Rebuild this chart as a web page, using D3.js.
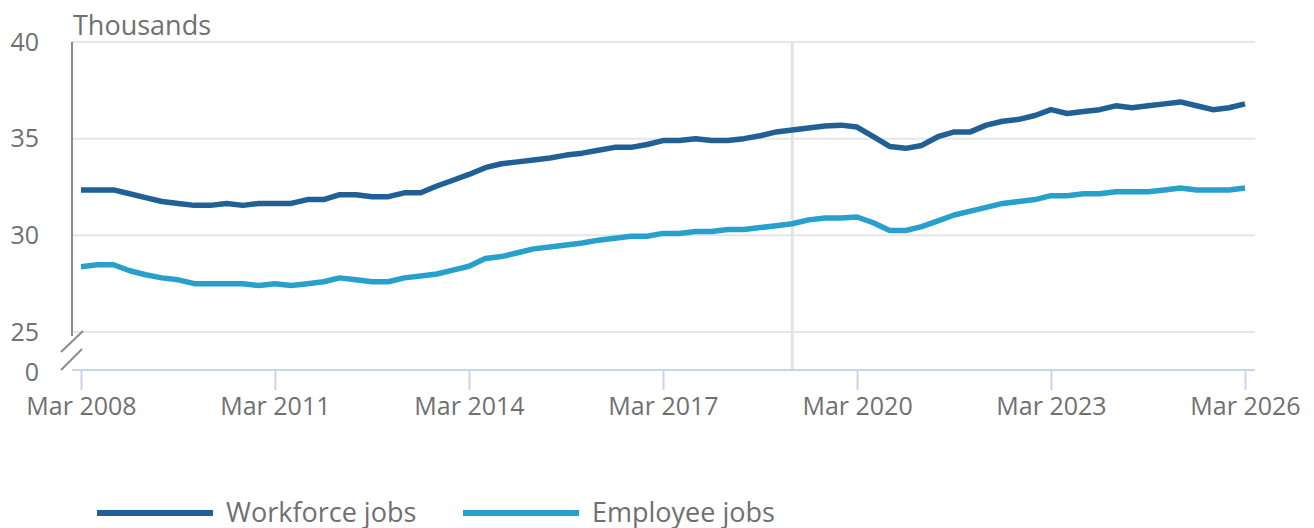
<!DOCTYPE html>
<html>
<head>
<meta charset="utf-8">
<script src="https://cdn.jsdelivr.net/npm/d3@7"></script>
<style>
  body { margin: 0; background: #fff; }
  svg text { font-family: "Open Sans", sans-serif; fill: #707071; }
</style>
</head>
<body>
<div id="chart"></div>
<script>
// Quarterly data, Mar 2008 to Mar 2026 (thousands)
const startYear = 2008;
const workforceJobs = [
  32.35, 32.35, 32.35, 32.15, 31.95, 31.75, 31.65, 31.55, 31.55, 31.65,
  31.55, 31.65, 31.65, 31.65, 31.85, 31.85, 32.1, 32.1, 32.0, 32.0,
  32.2, 32.2, 32.55, 32.85, 33.15, 33.5, 33.7, 33.8, 33.9, 34.0,
  34.15, 34.25, 34.4, 34.55, 34.55, 34.7, 34.9, 34.9, 35.0, 34.9,
  34.9, 35.0, 35.15, 35.35, 35.45, 35.55, 35.65, 35.7, 35.6, 35.1,
  34.6, 34.5, 34.65, 35.1, 35.35, 35.35, 35.7, 35.9, 36.0, 36.2,
  36.5, 36.3, 36.4, 36.5, 36.7, 36.6, 36.7, 36.8, 36.9, 36.7,
  36.5, 36.6, 36.8
];
const employeeJobs = [
  28.37, 28.48, 28.48, 28.17, 27.96, 27.8, 27.7, 27.5, 27.5, 27.5,
  27.5, 27.4, 27.5, 27.4, 27.5, 27.6, 27.8, 27.7, 27.6, 27.6,
  27.8, 27.9, 28.0, 28.2, 28.4, 28.8, 28.9, 29.1, 29.3, 29.4,
  29.5, 29.6, 29.75, 29.85, 29.95, 29.95, 30.1, 30.1, 30.2, 30.2,
  30.3, 30.3, 30.4, 30.5, 30.6, 30.8, 30.9, 30.9, 30.95, 30.65,
  30.25, 30.25, 30.45, 30.75, 31.05, 31.25, 31.45, 31.65, 31.75, 31.85,
  32.05, 32.05, 32.15, 32.15, 32.25, 32.25, 32.25, 32.35, 32.45, 32.35,
  32.35, 32.35, 32.45
];
const seriesNames = ["Workforce jobs", "Employee jobs"];
const seriesColors = ["#206095", "#27a0cc"];
const yTicks = [25, 30, 35, 40];
const xTickYears = [2008, 2011, 2014, 2017, 2020, 2023, 2026];
const markerDate = new Date(2019, 2, 1);

const dates = workforceJobs.map((d, i) => new Date(startYear + Math.floor(i / 4), 2 + (i % 4) * 3, 1));

const width = 1314, height = 528;
const svg = d3.select("#chart").append("svg")
  .attr("width", width)
  .attr("height", height);

// Scales
const x = d3.scaleTime()
  .domain([new Date(2008, 2, 1), new Date(2026, 2, 1)])
  .range([81, 1245]);
const y = d3.scaleLinear()
  .domain([25, 40])
  .range([332, 42]);
const axisLeft = 72, axisRight = 1255, baseY = 370;

// Gridlines
svg.append("g")
  .selectAll("line")
  .data(yTicks)
  .enter()
  .append("line")
  .attr("x1", axisLeft)
  .attr("x2", axisRight)
  .attr("y1", d => y(d))
  .attr("y2", d => y(d))
  .attr("stroke", "#e6e6e6")
  .attr("stroke-width", 2);

// Y tick labels
svg.append("g")
  .selectAll("text")
  .data(yTicks)
  .enter()
  .append("text")
  .attr("x", 39)
  .attr("y", d => y(d))
  .attr("dy", "0.35em")
  .attr("text-anchor", "end")
  .style("font-size", "25px")
  .text(d => d);

svg.append("text")
  .attr("x", 39)
  .attr("y", 372)
  .attr("dy", "0.35em")
  .attr("text-anchor", "end")
  .style("font-size", "25px")
  .text("0");

svg.append("text")
  .attr("x", 73)
  .attr("y", 35)
  .style("font-size", "27px")
  .text("Thousands");

// Vertical marker
svg.append("line")
  .attr("x1", x(markerDate))
  .attr("x2", x(markerDate))
  .attr("y1", y(40))
  .attr("y2", baseY)
  .attr("stroke", "#e3e3e3")
  .attr("stroke-width", 3);

// Y axis line with break
svg.append("line")
  .attr("x1", axisLeft).attr("x2", axisLeft)
  .attr("y1", y(40)).attr("y2", 336)
  .attr("stroke", "#8c8c8c")
  .attr("stroke-width", 2);
svg.append("g")
  .selectAll("line")
  .data([[61, 352, 83, 331], [61, 370, 82, 349]])
  .enter()
  .append("line")
  .attr("x1", d => d[0]).attr("y1", d => d[1])
  .attr("x2", d => d[2]).attr("y2", d => d[3])
  .attr("stroke", "#8c8c8c")
  .attr("stroke-width", 2);

// X axis
const xAxis = d3.axisBottom(x)
  .tickValues(xTickYears.map(yr => new Date(yr, 2, 1)))
  .tickFormat(d3.timeFormat("Mar %Y"))
  .tickSize(20)
  .tickPadding(7)
  .tickSizeOuter(0);
const gx = svg.append("g")
  .attr("transform", "translate(0," + baseY + ")")
  .call(xAxis);
gx.select(".domain").remove();
gx.append("line")
  .attr("x1", axisLeft).attr("x2", axisRight)
  .attr("stroke", "#c9d5ea")
  .attr("stroke-width", 2);
gx.selectAll(".tick line").attr("stroke", "#c9d5ea").attr("stroke-width", 2);
gx.selectAll(".tick text")
  .style("font-size", "25px")
  .style("font-family", "'Open Sans', sans-serif")
  .attr("fill", "#707071");

// Lines
const line = d3.line()
  .x((d, i) => x(dates[i]))
  .y(d => y(d));

[workforceJobs, employeeJobs].forEach(function (series, k) {
  svg.append("path")
    .datum(series)
    .attr("d", line)
    .attr("fill", "none")
    .attr("stroke", seriesColors[k])
    .attr("stroke-width", 5.5)
    .attr("stroke-linejoin", "round");
});

// Legend
const legendX = [97, 463];
seriesNames.forEach(function (name, k) {
  svg.append("line")
    .attr("x1", legendX[k]).attr("x2", legendX[k] + 116)
    .attr("y1", 513).attr("y2", 513)
    .attr("stroke", seriesColors[k])
    .attr("stroke-width", 6);
  svg.append("text")
    .attr("x", legendX[k] + 129)
    .attr("y", 522)
    .style("font-size", "27px")
    .text(name);
});
</script>
</body>
</html>
